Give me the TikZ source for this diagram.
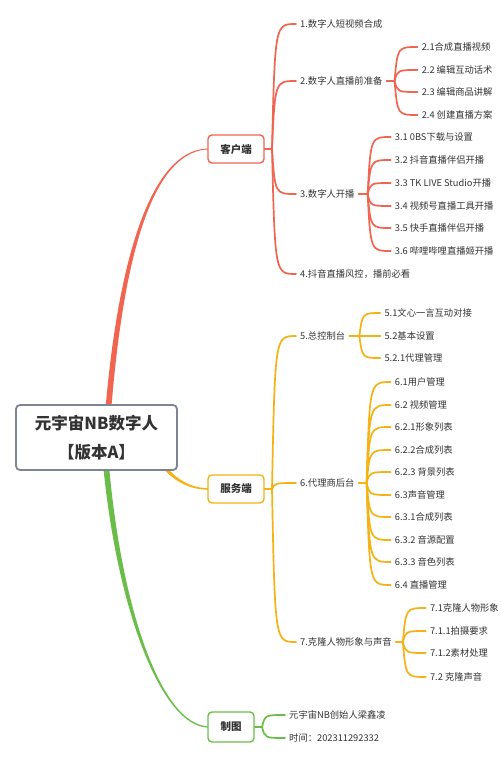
\documentclass[tikz,border=0pt]{standalone}
\usepackage{fontspec}
\newfontfamily\cjk{Noto Sans CJK SC}
\usetikzlibrary{calc}
\definecolor{cred}{RGB}{241,100,80}
\definecolor{cyel}{RGB}{245,178,20}
\definecolor{cgrn}{RGB}{106,190,72}
\definecolor{cgray}{RGB}{125,133,148}
\definecolor{txt}{RGB}{51,51,51}
\newcommand\mmc[3]{\draw[lk,#1] (#2) .. controls ($(#2 |- #3.west)+(3,0)$) .. (#3.west);}
\begin{document}
\begin{tikzpicture}[x=1pt,y=-1pt,
  leaf/.style={anchor=west, inner xsep=4pt, inner ysep=1pt, font=\cjk\fontsize{9.3}{11}\selectfont, text=txt},
  bbox/.style={draw, line width=1.4pt, rounded corners=4pt, fill=white, minimum height=28pt, inner sep=0pt, font=\cjk\bfseries\fontsize{10.5}{12}\selectfont, text=txt},
  lk/.style={line width=1.7pt, line cap=round}]
\useasboundingbox (0,0) rectangle (500,762);
% tapered main connectors
\fill[cred] (103,440) .. controls (117.5,230) and (160,147.8) .. (209,148.6) -- (209,149.4) .. controls (160,150.2) and (122.5,230) .. (109,440) -- cycle;
\fill[cgrn] (101,440) .. controls (112.5,600) and (160,728.2) .. (209,727.6) -- (209,726.4) .. controls (160,725.8) and (117.5,600) .. (107,440) -- cycle;
\fill[cyel] (151.5,443.5) .. controls (166.5,473.5) and (185,488.2) .. (209,488.2) -- (209,489.8) .. controls (185,489.8) and (163.5,476.5) .. (148.5,446.5) -- cycle;
% root
\node[draw=cgray, line width=1.8pt, rounded corners=4pt, fill=white, minimum width=161pt, minimum height=65pt, align=center, font=\cjk\bfseries\fontsize{16.5}{29}\selectfont, text=txt] (root) at (96.5,437.5) {元宇宙NB数字人\\【版本A】};
% branch boxes
\node[bbox, draw=cred, minimum width=56pt] (kh) at (236,149) {客户端};
\node[bbox, draw=cyel, minimum width=56pt] (fw) at (236,489) {服务端};
\node[bbox, draw=cgrn, minimum width=46pt, minimum height=30pt] (zt) at (231,727) {制图};
% ---------- client ----------
\coordinate (J1) at (272,149);
\draw[lk,cred] (kh.east) -- (J1);
\node[leaf] (n1) at (296,24) {1.数字人短视频合成};
\node[leaf] (n2) at (296,81) {2.数字人直播前准备};
\node[leaf] (n3) at (296,194) {3.数字人开播};
\node[leaf] (n4) at (296,274) {4.抖音直播风控，播前必看};
\mmc{cred}{J1}{n1}\mmc{cred}{J1}{n2}\mmc{cred}{J1}{n3}\mmc{cred}{J1}{n4}
\coordinate (j2) at ($(n2.east)+(8,0)$);
\draw[lk,cred] (n2.east) -- (j2);
\path (j2) ++(23,0) coordinate (k2);
\foreach \t/\yy [count=\i] in {2.1合成直播视频/47, 2.2 编辑互动话术/70, 2.3 编辑商品讲解/92, 2.4 创建直播方案/115}{
  \node[leaf] (c2\i) at (k2 |- 0,\yy) {\t};
  \mmc{cred}{j2}{c2\i}
}
\coordinate (j3) at ($(n3.east)+(9,0)$);
\draw[lk,cred] (n3.east) -- (j3);
\path (j3) ++(23,0) coordinate (k3);
\foreach \t/\yy [count=\i] in {3.1 0BS下载与设置/137, 3.2 抖音直播伴侣开播/160, 3.3 TK LIVE Studio开播/183, 3.4 视频号直播工具开播/206, 3.5 快手直播伴侣开播/228, 3.6 哔哩哔哩直播姬开播/251}{
  \node[leaf] (c3\i) at (k3 |- 0,\yy) {\t};
  \mmc{cred}{j3}{c3\i}
}
% ---------- server ----------
\coordinate (J2) at (272,489);
\draw[lk,cyel] (fw.east) -- (J2);
\node[leaf] (n5) at (296,336) {5.总控制台};
\node[leaf] (n6) at (296,483) {6.代理商后台};
\node[leaf] (n7) at (296,642) {7.克隆人物形象与声音};
\mmc{cyel}{J2}{n5}\mmc{cyel}{J2}{n6}\mmc{cyel}{J2}{n7}
\coordinate (j5) at ($(n5.east)+(10,0)$);
\draw[lk,cyel] (n5.east) -- (j5);
\path (j5) ++(21,0) coordinate (k5);
\foreach \t/\yy [count=\i] in {5.1文心一言互动对接/313, 5.2基本设置/336, 5.2.1代理管理/358}{
  \node[leaf] (c5\i) at (k5 |- 0,\yy) {\t};
  \mmc{cyel}{j5}{c5\i}
}
\coordinate (j6) at ($(n6.east)+(8,0)$);
\draw[lk,cyel] (n6.east) -- (j6);
\path (j6) ++(24,0) coordinate (k6);
\foreach \t/\yy [count=\i] in {6.1用户管理/382, 6.2 视频管理/405, 6.2.1形象列表/427, 6.2.2合成列表/450, 6.2.3 背景列表/472, 6.3声音管理/495, 6.3.1合成列表/517, 6.3.2 音源配置/540, 6.3.3 音色列表/562, 6.4 直播管理/585}{
  \node[leaf] (c6\i) at (k6 |- 0,\yy) {\t};
  \mmc{cyel}{j6}{c6\i}
}
\coordinate (j7) at ($(n7.east)+(7,0)$);
\draw[lk,cyel] (n7.east) -- (j7);
\path (j7) ++(23,0) coordinate (k7);
\foreach \t/\yy [count=\i] in {7.1克隆人物形象/608, 7.1.1拍摄要求/631, 7.1.2素材处理/653, 7.2 克隆声音/677}{
  \node[leaf] (c7\i) at (k7 |- 0,\yy) {\t};
  \mmc{cyel}{j7}{c7\i}
}
% ---------- drawing ----------
\coordinate (J3) at (262,727);
\draw[lk,cgrn] (zt.east) -- (J3);
\node[leaf] (m1) at (285,715) {元宇宙NB创始人梁鑫凌};
\node[leaf] (m2) at (285,738) {时间：202311292332};
\mmc{cgrn}{J3}{m1}\mmc{cgrn}{J3}{m2}
\end{tikzpicture}
\end{document}
